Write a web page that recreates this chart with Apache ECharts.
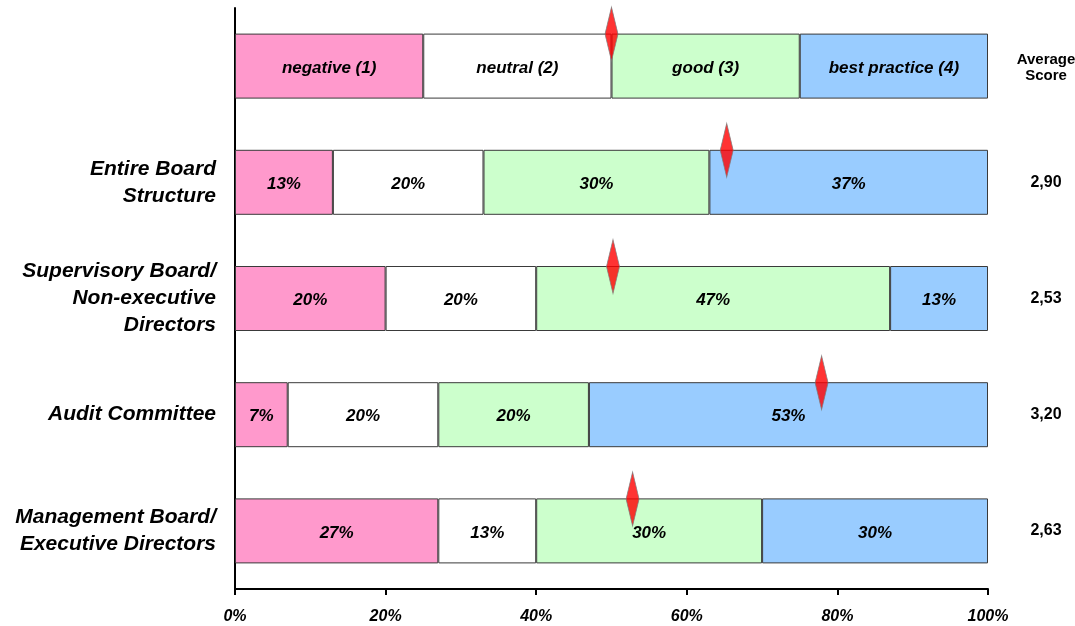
<!DOCTYPE html>
<html>
<head>
<meta charset="utf-8">
<script src="https://cdn.jsdelivr.net/npm/echarts@6/dist/echarts.min.js"></script>
<style>
  html, body { margin: 0; padding: 0; background: #fff; }
  #chart { width: 1075px; height: 626px; }
</style>
</head>
<body>
<div id="chart"></div>
<script>
// Board evaluation: distribution of ratings per board body (percent of answers)
const categories = ['', 'Entire Board\nStructure', 'Supervisory Board/\nNon-executive\nDirectors', 'Audit Committee', 'Management Board/\nExecutive Directors'];
const ratingNames = ['negative (1)', 'neutral (2)', 'good (3)', 'best practice (4)'];
const negative = [25, 13, 20, 7, 27];
const neutral = [25, 20, 20, 20, 13];
const good = [25, 30, 47, 20, 30];
const bestPractice = [25, 37, 13, 53, 30];
// average scores per row (header row has none)
const averageScores = [null, 2.90, 2.53, 3.20, 2.63];
// position of the average-score marker on the 0-100% scale
const markerPos = [50, 65.3, 50.2, 77.9, 52.8];
const xTicks = [0, 20, 40, 60, 80, 100];

const colors = ['#FF99CC', '#FFFFFF', '#CCFFCC', '#99CCFF'];
const font = 'Liberation Sans, Arial, sans-serif';

const chart = echarts.init(document.getElementById('chart'));

const seriesValues = [negative, neutral, good, bestPractice];
const barSeries = seriesValues.map((vals, si) => ({
  type: 'bar',
  name: ratingNames[si],
  stack: 'total',
  barWidth: 65,
  data: vals,
  itemStyle: { color: colors[si], borderColor: '#3a3a3a', borderWidth: 1 },
  label: {
    show: true,
    position: 'inside',
    offset: [0, 2],
    color: '#000',
    fontFamily: font,
    fontWeight: 'bold',
    fontStyle: 'italic',
    fontSize: 17,
    formatter: p => p.dataIndex === 0 ? ratingNames[si] : p.value + '%'
  },
  emphasis: { disabled: true },
  z: 2
}));

const scoreLabels = averageScores.map(s => s === null ? '{h|Average\nScore}' : s.toFixed(2).replace('.', ','));

chart.setOption({
  animation: false,
  grid: { left: 235, right: 87, top: 8, bottom: 37, containLabel: false, outerBoundsMode: 'none' },
  xAxis: {
    type: 'value',
    min: 0,
    max: 100,
    interval: 20,
    axisLine: { show: true, lineStyle: { color: '#000', width: 2 } },
    axisTick: { show: true, length: 6, lineStyle: { color: '#000', width: 2 } },
    splitLine: { show: false },
    axisLabel: {
      margin: 20,
      color: '#000',
      fontFamily: font,
      fontWeight: 'bold',
      fontStyle: 'italic',
      fontSize: 16,
      formatter: v => xTicks.includes(v) ? v + '%' : ''
    }
  },
  yAxis: [
    {
      type: 'category',
      inverse: true,
      data: categories,
      axisLine: { show: true, lineStyle: { color: '#000', width: 2 } },
      axisTick: { show: false },
      axisLabel: {
        margin: 19,
        color: '#000',
        fontFamily: font,
        fontWeight: 'bold',
        fontStyle: 'italic',
        fontSize: 21,
        lineHeight: 27,
        align: 'right'
      }
    },
    {
      type: 'category',
      inverse: true,
      position: 'right',
      data: scoreLabels,
      axisLine: { show: false },
      axisTick: { show: false },
      axisLabel: {
        margin: 58,
        align: 'center',
        color: '#000',
        fontFamily: font,
        fontWeight: 'bold',
        fontSize: 16,
        rich: {
          h: { fontFamily: font, fontWeight: 'bold', fontSize: 15, lineHeight: 16, color: '#000', align: 'center', padding: [4, 0, 0, 0] }
        }
      }
    }
  ],
  series: barSeries.concat([{
    type: 'scatter',
    data: markerPos.map((p, i) => [p, i]),
    symbol: 'diamond',
    symbolSize: [13, 54],
    symbolOffset: [0, -32],
    itemStyle: { color: '#FF0000', borderColor: '#7a7a7a', borderWidth: 1.2 },
    emphasis: { disabled: true },
    z: 5
  }])
});
</script>
</body>
</html>
